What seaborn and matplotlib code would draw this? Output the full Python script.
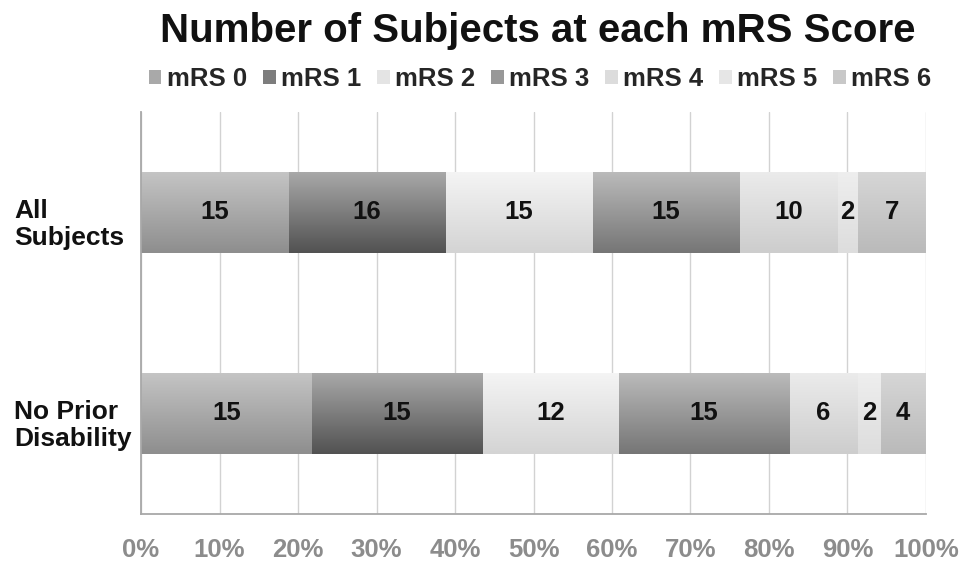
import numpy as np
import pandas as pd
import matplotlib
matplotlib.use("Agg")
import matplotlib.pyplot as plt
import seaborn as sns
from matplotlib.patches import Patch
from matplotlib.colors import to_rgb
from matplotlib.transforms import ScaledTranslation

# --- data -------------------------------------------------------------
groups = ["All\nSubjects", "No Prior\nDisability"]
scores = ["mRS 0", "mRS 1", "mRS 2", "mRS 3", "mRS 4", "mRS 5", "mRS 6"]
all_subjects = [15, 16, 15, 15, 10, 2, 7]
no_prior_disability = [15, 15, 12, 15, 6, 2, 4]
x_ticks = [0, 10, 20, 30, 40, 50, 60, 70, 80, 90, 100]
x_tick_labels = ["0%", "10%", "20%", "30%", "40%", "50%", "60%",
                 "70%", "80%", "90%", "100%"]

# gradient fills per score: (top colour, bottom colour)
fills = {
    "mRS 0": ("#c4c4c4", "#8e8e8e"),
    "mRS 1": ("#a8a8a8", "#525252"),
    "mRS 2": ("#f4f4f4", "#d4d4d4"),
    "mRS 3": ("#bababa", "#767676"),
    "mRS 4": ("#ebebeb", "#cdcdcd"),
    "mRS 5": ("#eeeeee", "#dddddd"),
    "mRS 6": ("#d6d6d6", "#bababa"),
}

counts = pd.DataFrame({groups[0]: all_subjects,
                       groups[1]: no_prior_disability}, index=scores)
pct = counts / counts.sum() * 100
cum = pct.cumsum()
starts = cum - pct


def mix(c1, c2, t=0.5):
    return tuple(np.array(to_rgb(c1)) * (1 - t) + np.array(to_rgb(c2)) * t)


# --- figure -----------------------------------------------------------
sns.set_theme(style="white")
plt.rcParams["font.family"] = ["Liberation Sans", "DejaVu Sans"]
plt.rcParams["font.weight"] = "bold"

fig = plt.figure(figsize=(9.62, 5.63), dpi=100)
ax = fig.add_axes([141 / 962, 49 / 563, 785 / 962, 402 / 563])

# stacked bars: draw cumulative totals from the last score backwards
order = list(reversed(scores))
bar_info = []
for s in order:
    n_before = len(ax.patches)
    sns.barplot(x=cum.loc[s].values, y=groups, orient="h", ax=ax,
                color=fills[s][0], width=0.4, saturation=1, linewidth=0)
    for p, g in zip(ax.patches[n_before:], groups):
        bar_info.append((p, s, g))

# vertical gradient inside each bar, clipped to its rectangle
for i, (p, s, g) in enumerate(bar_info):
    top, bot = (np.array(to_rgb(c)) for c in fills[s])
    t = np.linspace(0, 1, 64)[:, None, None]
    grad = top[None, None, :] * (1 - t) + bot[None, None, :] * t
    x0, y0 = p.get_x(), p.get_y()
    w, h = p.get_width(), p.get_height()
    im = ax.imshow(grad, extent=(x0, x0 + w, y0 + h, y0), origin="upper",
                   aspect="auto", interpolation="bilinear",
                   zorder=2 + i * 0.01)
    im.set_clip_path(p)

# value labels centred in each segment
for gi, g in enumerate(groups):
    for s in scores:
        mid = starts.loc[s, g] + pct.loc[s, g] / 2
        ax.text(mid, gi, str(counts.loc[s, g]), ha="center", va="center",
                fontsize=18.5, fontweight="bold", color="#111111", zorder=5)

ax.set_xlim(0, 100)
ax.set_ylim(1.5, -0.5)
ax.set_xlabel("")
ax.set_ylabel("")

# axes styling
grey = "#a8a8a8"
ax.set_axisbelow(True)
ax.xaxis.grid(True, color="#d2d2d2", linewidth=1)
ax.yaxis.grid(False)
for side in ("top", "right"):
    ax.spines[side].set_visible(False)
for side in ("left", "bottom"):
    ax.spines[side].set_color(grey)
    ax.spines[side].set_linewidth(1.3)

ax.set_xticks(x_ticks)
ax.set_xticklabels(x_tick_labels)
ax.tick_params(axis="x", direction="out", length=5, width=1, color=grey,
               labelcolor="#8c8c8c", labelsize=18.5, pad=12)
for lbl in ax.get_xticklabels():
    lbl.set_fontweight("bold")

ax.set_yticks([0, 1])
ax.set_yticklabels(groups, ha="left", fontsize=19, fontweight="bold",
                   linespacing=1.15)
ax.set_yticks([-0.5, 0.5, 1.5], minor=True)
ax.tick_params(axis="y", which="major", length=0,
               pad=(141 - 14) * 72 / 100, labelcolor="#111111")
ax.tick_params(axis="y", which="minor", length=5, width=1, color=grey,
               direction="out")
shift = ScaledTranslation(0, -8 / 100, fig.dpi_scale_trans)
for lbl in ax.get_yticklabels():
    lbl.set_transform(lbl.get_transform() + shift)

# title and legend
fig.text(538 / 962, 1 - 31 / 563, "Number of Subjects at each mRS Score",
         ha="center", va="center", fontsize=29, fontweight="bold",
         color="#111111")
handles = [Patch(facecolor=mix(*fills[s]), edgecolor="none", label=s)
           for s in scores]
fig.legend(handles=handles, loc="center", ncol=7,
           bbox_to_anchor=(540 / 962, 1 - 79 / 563), frameon=False,
           prop={"size": 18.5, "weight": "bold"}, handlelength=0.5,
           handleheight=0.5, handletextpad=0.2, columnspacing=0.62,
           borderaxespad=0, borderpad=0)

fig.savefig("out.png", dpi=100)
